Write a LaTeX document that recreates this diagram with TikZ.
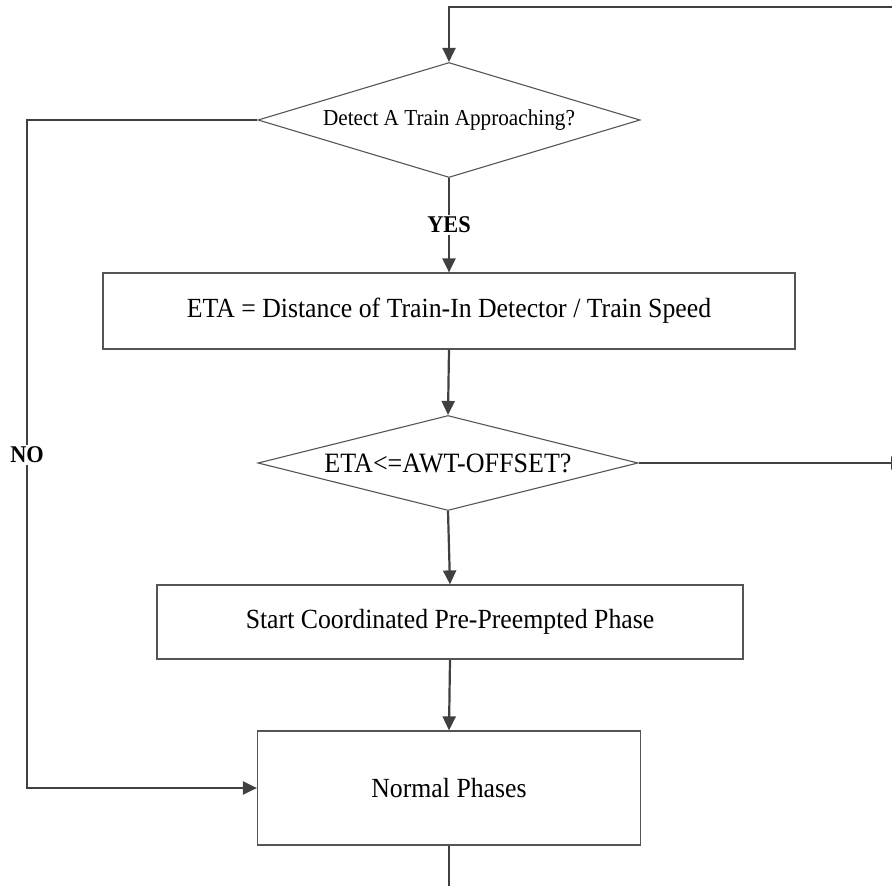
\documentclass[tikz,border=0pt]{standalone}
\usepackage{fontspec}
\setmainfont{Liberation Serif}[FakeStretch=0.93]
\usetikzlibrary{shapes.geometric,arrows.meta}
\definecolor{linec}{HTML}{404040}
\definecolor{borderc}{HTML}{555555}
\tikzset{
  boxnode/.style={draw=borderc,line width=1.2pt,rectangle,inner sep=0pt,font=\fontsize{27.7}{32}\selectfont},
  decnode/.style={draw=borderc,line width=1.1pt,diamond,inner sep=0pt},
  conn/.style={draw=linec,line width=2.2pt},
  arr/.style={conn,-{Triangle[length=14pt,width=13pt]}},
  lbl/.style={fill=white,inner sep=2pt,font=\fontsize{24}{28}\selectfont\bfseries}
}
\begin{document}
\begin{tikzpicture}[x=1pt,y=-1pt]
\useasboundingbox (0,0) rectangle (892,886);
\node[decnode,aspect=3.32,minimum width=382pt,minimum height=115pt,font=\fontsize{22.8}{27}\selectfont] (d1) at (449,120) {Detect A Train Approaching?};
\node[boxnode,minimum width=692pt,minimum height=76pt] (b1) at (449,311) {ETA = Distance of Train-In Detector / Train Speed};
\node[decnode,aspect=4.0,minimum width=380pt,minimum height=95pt,font=\fontsize{28}{32}\selectfont] (d2) at (448,463) {ETA<=AWT-OFFSET?};
\node[boxnode,minimum width=586pt,minimum height=74pt] (b2) at (450,622) {Start Coordinated Pre-Preempted Phase};
\node[boxnode,minimum width=383pt,minimum height=114pt] (b3) at (449,788) {Normal Phases};
\coordinate (tr) at (900,7);
\coordinate (tl) at (449,7);
\coordinate (nox) at (27,120);
\coordinate (eout) at (905,463);
\coordinate (bout) at (449,895);
\draw[arr] (tr) -- (tl) -- (d1.north);
\draw[arr] (d1.west) -- (nox) |- (b3.west);
\draw[arr] (d1.south) -- (b1.north);
\draw[arr] (b1.south) -- (d2.north);
\draw[arr] (d2.east) -- (eout);
\draw[arr] (d2.south) -- (b2.north);
\draw[arr] (b2.south) -- (b3.north);
\draw[conn] (b3.south) -- (bout);
\node[lbl] (yes) at (449,225) {YES};
\node[lbl] (no) at (27,455) {NO};
\end{tikzpicture}
\end{document}
